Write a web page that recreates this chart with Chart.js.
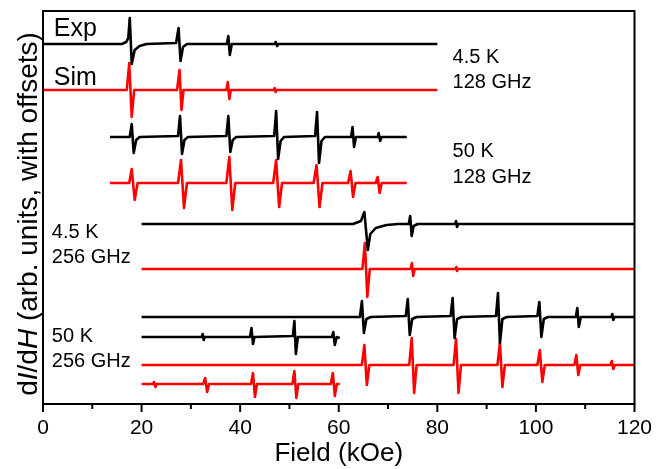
<!DOCTYPE html>
<html>
<head>
<meta charset="utf-8">
<script src="https://cdn.jsdelivr.net/npm/chart.js@4.4.0/dist/chart.umd.min.js"></script>
<style>
  html, body { margin: 0; padding: 0; background: #fff; }
</style>
</head>
<body>
<canvas id="myChart" width="656" height="469"></canvas>
<script>
// field axis ticks (kOe)
const fieldTicks = [0, 20, 40, 60, 80, 100, 120];
const minorTicks = [10, 30, 50, 70, 90, 110];

// spectra as [field (kOe), dI/dH with offset] pairs
const exp45k128 = [
  [0, 360], [16.0, 360], [16.9, 362], [17.3, 366], [17.6, 386], [18.0, 340], [18.6, 354], [19.6, 358], [21, 360],
  [27.0, 361], [27.5, 376], [27.9, 343], [28.4, 357], [29.2, 360],
  [37.3, 360], [37.6, 368], [37.9, 349], [38.3, 360],
  [47.0, 360], [47.2, 362], [47.5, 358], [47.8, 360],
  [80, 360]
];
const sim45k128 = [
  [0, 314], [17.0, 314], [17.5, 341], [18.0, 287], [18.5, 314],
  [27.2, 314], [27.7, 334], [28.1, 294], [28.5, 314],
  [37.2, 314], [37.5, 322], [37.8, 305], [38.1, 314],
  [46.8, 314], [47.0, 316], [47.2, 312], [47.4, 314],
  [80, 314]
];
const exp50k128 = [
  [13.6, 267], [17.6, 267], [18.0, 280], [18.4, 251], [18.9, 264], [19.6, 267],
  [27.4, 268], [27.8, 288], [28.2, 250], [28.7, 264], [29.4, 267],
  [37.2, 268], [37.6, 288], [38.0, 252], [38.5, 264], [39.2, 267],
  [46.9, 268], [47.3, 293], [47.7, 245], [48.2, 263], [48.9, 267],
  [55.2, 268], [55.6, 292], [56.0, 241], [56.5, 263], [57.2, 267],
  [62.5, 267], [62.8, 277], [63.1, 257], [63.5, 267],
  [67.9, 267], [68.1, 271], [68.4, 263], [68.7, 267],
  [73.8, 267]
];
const sim50k128 = [
  [13.6, 221], [17.5, 221], [18.0, 235], [18.6, 204], [19.2, 221],
  [27.4, 221], [28.0, 244], [28.6, 196], [29.2, 221],
  [37.2, 221], [37.8, 247], [38.4, 194], [39.0, 221],
  [46.7, 221], [47.3, 244], [47.9, 197], [48.5, 221],
  [54.9, 221], [55.5, 239], [56.1, 197], [56.7, 221],
  [61.9, 221], [62.4, 233], [62.9, 207], [63.4, 221],
  [67.5, 221], [67.9, 227], [68.3, 211], [68.7, 221],
  [73.8, 221]
];
const exp45k256 = [
  [20, 180], [62.9, 180], [64.5, 183], [65.2, 192], [65.9, 154], [66.4, 170], [67.5, 176], [69.7, 179], [72, 180],
  [74.2, 180], [74.5, 188], [74.8, 168], [75.2, 178], [76, 180],
  [83.6, 180], [83.8, 183], [84.0, 177], [84.2, 180],
  [120, 180]
];
const sim45k256 = [
  [20, 135], [64.8, 135], [65.3, 161], [65.8, 107], [66.3, 135],
  [74.6, 135], [74.85, 141], [75.1, 128], [75.4, 135],
  [83.7, 135], [83.85, 137], [84.0, 133], [84.2, 135],
  [120, 135]
];
const exp50k256 = [
  [20, 87], [64.3, 87], [64.7, 103], [65.1, 71], [65.6, 85], [66.5, 87],
  [73.6, 88], [74.0, 105], [74.4, 69], [74.9, 85], [75.8, 87],
  [82.7, 88], [83.1, 106], [83.5, 66], [84.0, 85], [84.9, 87],
  [91.9, 88], [92.3, 111], [92.7, 61], [93.2, 85], [94.1, 87],
  [100.3, 88], [100.7, 102], [101.1, 67], [101.6, 85], [102.4, 87],
  [108.1, 87], [108.4, 96], [108.7, 77], [109.1, 87],
  [115.3, 87], [115.5, 90], [115.7, 84], [115.9, 87],
  [120, 87]
];
const exp50k256low = [
  [20, 67], [32.2, 67], [32.4, 70], [32.6, 64], [32.8, 67],
  [42.0, 67], [42.3, 76], [42.6, 60], [42.9, 67],
  [50.7, 68], [51.0, 83], [51.3, 50], [51.7, 67],
  [58.6, 67], [58.9, 72], [59.2, 59], [59.6, 67], [60.2, 66]
];
const sim50k256 = [
  [20, 39], [64.7, 39], [65.2, 59], [65.7, 19], [66.2, 39],
  [74.3, 39], [74.8, 66], [75.3, 11], [75.8, 39],
  [83.3, 39], [83.8, 65], [84.3, 11], [84.8, 39],
  [92.2, 39], [92.7, 61], [93.2, 17], [93.7, 39],
  [100.3, 39], [100.8, 54], [101.3, 22], [101.8, 39],
  [107.8, 39], [108.2, 49], [108.6, 29], [109.0, 39],
  [115.1, 39], [115.4, 43], [115.7, 35], [116.0, 39],
  [120, 39]
];
const sim50k256low = [
  [20, 20], [22.3, 20], [22.5, 22], [22.8, 17], [23.0, 20],
  [32.5, 20], [32.9, 26], [33.3, 12], [33.7, 20],
  [42.2, 20], [42.6, 31], [43.0, 7], [43.4, 20],
  [50.6, 20], [51.0, 33], [51.4, 6], [51.8, 20],
  [58.4, 20], [58.8, 31], [59.2, 8], [59.6, 20], [60.2, 20]
];

const FONT = '"Liberation Sans", Arial, Helvetica, sans-serif';
const BLACK = '#000000';
const RED = '#ff0000';

// text placed in data coordinates: [text, field, signal, size]
const notes = [
  ['Exp', 2.2, 368, 25],
  ['Sim', 2.2, 319, 25],
  ['4.5 K', 83.1, 341, 20],
  ['128 GHz', 83.1, 316, 20],
  ['50 K', 83.1, 247, 20],
  ['128 GHz', 83.1, 221.5, 20],
  ['4.5 K', 1.8, 166, 20],
  ['256 GHz', 1.8, 141, 20],
  ['50 K', 1.8, 62.5, 20],
  ['256 GHz', 1.8, 37, 20]
];

function trace(data, color) {
  return {
    data: data,
    borderColor: color,
    borderWidth: 2.6,
    borderJoinStyle: 'round',
    pointRadius: 0,
    tension: 0,
    fill: false
  };
}

const frame = {
  id: 'frame',
  afterDraw(chart) {
    const ctx = chart.ctx;
    const a = chart.chartArea;
    const xs = chart.scales.x;
    const ys = chart.scales.y;
    ctx.save();
    ctx.strokeStyle = BLACK;
    ctx.lineWidth = 2;
    ctx.strokeRect(a.left, a.top, a.right - a.left, a.bottom - a.top);

    fieldTicks.forEach(v => {
      const px = xs.getPixelForValue(v);
      ctx.beginPath();
      ctx.moveTo(px, a.bottom);
      ctx.lineTo(px, a.bottom + 8);
      ctx.stroke();
    });
    minorTicks.forEach(v => {
      const px = xs.getPixelForValue(v);
      ctx.beginPath();
      ctx.moveTo(px, a.bottom);
      ctx.lineTo(px, a.bottom + 5);
      ctx.stroke();
    });

    ctx.fillStyle = BLACK;
    ctx.textAlign = 'left';
    ctx.textBaseline = 'alphabetic';
    notes.forEach(n => {
      ctx.font = n[3] + 'px ' + FONT;
      ctx.fillText(n[0], xs.getPixelForValue(n[1]), ys.getPixelForValue(n[2]));
    });

    // y title with italic I and H
    const parts = [['d', false], ['I', true], ['/d', false], ['H', true], [' (arb. units, with offsets)', false]];
    let total = 0;
    parts.forEach(p => {
      ctx.font = (p[1] ? 'italic ' : '') + '28px ' + FONT;
      total += ctx.measureText(p[0]).width;
    });
    ctx.translate(37, 214);
    ctx.rotate(-Math.PI / 2);
    let x = -total / 2;
    parts.forEach(p => {
      ctx.font = (p[1] ? 'italic ' : '') + '28px ' + FONT;
      ctx.fillText(p[0], x, 0);
      x += ctx.measureText(p[0]).width;
    });
    ctx.restore();
  }
};

const ctx = document.getElementById('myChart').getContext('2d');
const myChart = new Chart(ctx, {
  type: 'line',
  data: {
    datasets: [
      trace(exp45k128, BLACK),
      trace(sim45k128, RED),
      trace(exp50k128, BLACK),
      trace(sim50k128, RED),
      trace(exp45k256, BLACK),
      trace(sim45k256, RED),
      trace(exp50k256, BLACK),
      trace(exp50k256low, BLACK),
      trace(sim50k256, RED),
      trace(sim50k256low, RED)
    ]
  },
  options: {
    responsive: false,
    animation: false,
    devicePixelRatio: 1,
    layout: { padding: { left: 43, right: 21.5, top: 11, bottom: 0 } },
    plugins: { legend: { display: false }, tooltip: { enabled: false } },
    scales: {
      x: {
        type: 'linear',
        min: 0,
        max: 120,
        afterBuildTicks: s => { s.ticks = fieldTicks.map(v => ({ value: v })); },
        afterFit: s => { s.height = 65; s.paddingLeft = 0; s.paddingRight = 0; },
        grid: { display: false, drawTicks: false },
        border: { display: false },
        ticks: { color: BLACK, font: { family: FONT, size: 21 }, padding: 12, maxRotation: 0 },
        title: { display: true, text: 'Field (kOe)', color: BLACK, font: { family: FONT, size: 26 }, padding: { top: 0, bottom: 0 } }
      },
      y: {
        type: 'linear',
        min: 0,
        max: 393,
        display: false
      }
    }
  },
  plugins: [frame]
});
</script>
</body>
</html>
